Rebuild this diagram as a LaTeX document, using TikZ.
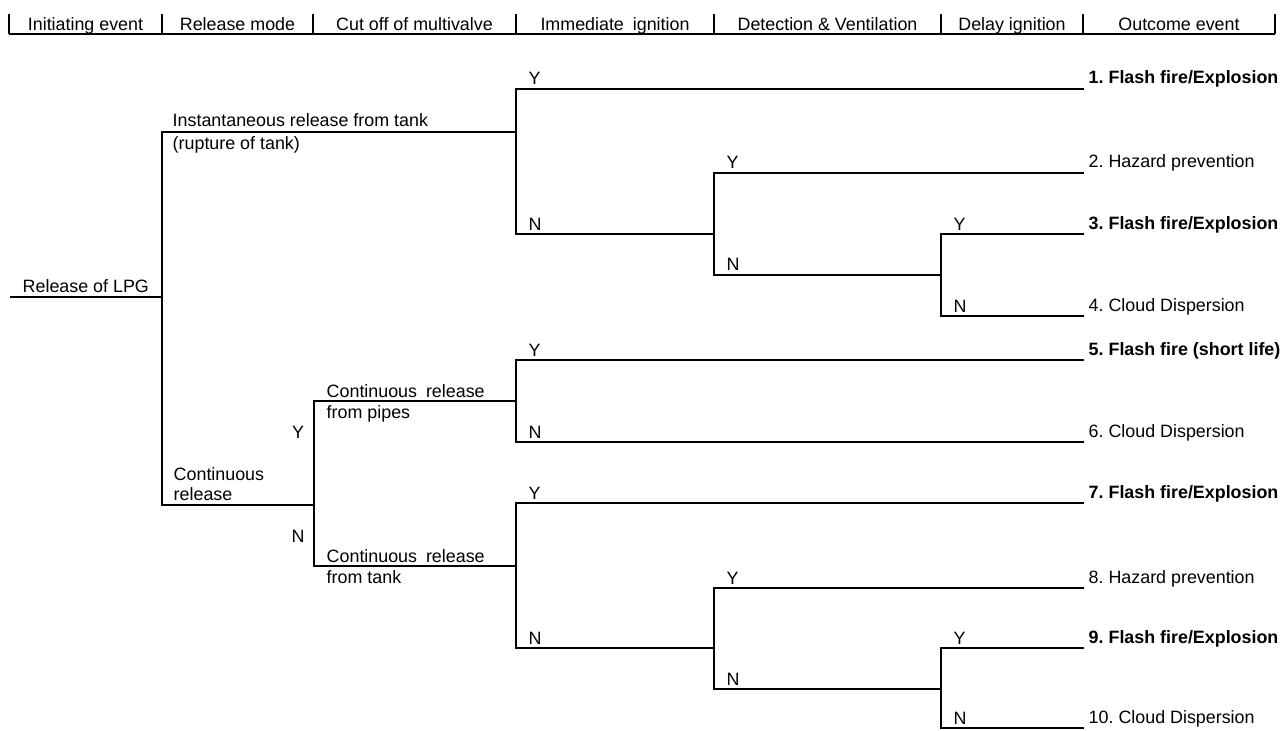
\documentclass[tikz,border=0pt]{standalone}
\usepackage{fontspec}
\setmainfont{Liberation Sans}
\frenchspacing
\begin{document}
\begin{tikzpicture}[x=0.75pt,y=-0.75pt,line width=1.1pt,
  lbl/.style={inner sep=0pt,font=\fontsize{13.4}{16}\selectfont,anchor=base west},
  hdr/.style={inner sep=0pt,font=\fontsize{13.4}{16}\selectfont,anchor=base},
  outcome/.style={lbl},
  outcomeb/.style={lbl,font=\fontsize{13.4}{16}\selectfont\bfseries},
  yn/.style={lbl},
  br/.style={line width=1.1pt,draw=black}]
\useasboundingbox (0,0) rectangle (1282,731);
% ---------- header ----------
\foreach \x/\n in {9/h0,162/h1,313/h2,516/h3,714/h4,941/h5,1083/h6,1275/h7}{
  \coordinate (\n t) at (\x,14);
  \coordinate (\n b) at (\x,34);
  \draw[br] (\n t) -- (\n b);
}
\draw[br] (h0b) -- (h7b);
\node[hdr] (c1) at (85.5,31) {Initiating event};
\node[hdr] (c2) at (237.5,31) {Release mode};
\node[hdr] (c3) at (414.5,31) {Cut off of multivalve};
\node[hdr] (c4) at (615,31) {Immediate\hskip0.5em ignition};
\node[hdr] (c5) at (827.5,31) {Detection \& Ventilation};
\node[hdr] (c6) at (1012,31) {Delay ignition};
\node[hdr] (c7) at (1179,31) {Outcome event};
% ---------- tree coordinates ----------
\coordinate (s0) at (10,297);   \coordinate (s1) at (162,297);
\coordinate (i0) at (162,132);  \coordinate (i1) at (516,132);
\coordinate (c0) at (162,505);  \coordinate (cc1) at (314,505);
\coordinate (p0) at (314,401);  \coordinate (p1) at (516,401);
\coordinate (t0) at (314,566);  \coordinate (t1) at (516,566);
% instantaneous sub-tree
\coordinate (a1) at (516,89);   \coordinate (e1) at (1084,89);
\coordinate (an) at (516,234);  \coordinate (an1) at (714,234);
\coordinate (b1) at (714,173);  \coordinate (e2) at (1084,173);
\coordinate (bn) at (714,275);  \coordinate (bn1) at (941,275);
\coordinate (d1) at (941,234);  \coordinate (e3) at (1084,234);
\coordinate (dn) at (941,316);  \coordinate (e4) at (1084,316);
% pipes sub-tree
\coordinate (f1) at (516,360);  \coordinate (e5) at (1084,360);
\coordinate (fn) at (516,442);  \coordinate (e6) at (1084,442);
% tank sub-tree
\coordinate (g1) at (516,503);  \coordinate (e7) at (1084,503);
\coordinate (gn) at (516,648);  \coordinate (gn1) at (714,648);
\coordinate (k1) at (714,588);  \coordinate (e8) at (1084,588);
\coordinate (kn) at (714,689);  \coordinate (kn1) at (941,689);
\coordinate (m1) at (941,648);  \coordinate (e9) at (1084,648);
\coordinate (mn) at (941,728);  \coordinate (e10) at (1084,728);
% ---------- branches ----------
\draw[br] (s0) -- (s1);
\draw[br] (i1) -- (i0) -- (c0) -- (cc1);
\draw[br] (p1) -- (p0) -- (t0) -- (t1);
\draw[br] (e1) -- (a1) -- (an) -- (an1);
\draw[br] (e2) -- (b1) -- (bn) -- (bn1);
\draw[br] (e3) -- (d1) -- (dn) -- (e4);
\draw[br] (e5) -- (f1) -- (fn) -- (e6);
\draw[br] (e7) -- (g1) -- (gn) -- (gn1);
\draw[br] (e8) -- (k1) -- (kn) -- (kn1);
\draw[br] (e9) -- (m1) -- (mn) -- (e10);
% ---------- branch labels ----------
\node[lbl] (lpg) at (22,292) {Release of LPG};
\node[lbl] (ins1) at (172,127) {Instantaneous release from tank};
\node[lbl] (ins2) at (172,150) {(rupture of tank)};
\node[lbl] (con1) at (173,480) {Continuous};
\node[lbl] (con2) at (173,500) {release};
\node[lbl] (pip1) at (326,397) {Continuous\hskip0.5em release};
\node[lbl] (pip2) at (326,418) {from pipes};
\node[lbl] (tnk1) at (326,562) {Continuous\hskip0.5em release};
\node[lbl] (tnk2) at (326,583) {from tank};
\node[hdr] (cy) at (298,438) {Y};
\node[hdr] (cn) at (298,542) {N};
% Y / N labels on branches
\node[yn] (y1) at (528,85) {Y};
\node[yn] (n1) at (528,230) {N};
\node[yn] (y2) at (726,169) {Y};
\node[yn] (n2) at (726,271) {N};
\node[yn] (y3) at (953,230) {Y};
\node[yn] (n3) at (953,312) {N};
\node[yn] (y4) at (528,356) {Y};
\node[yn] (n4) at (528,438) {N};
\node[yn] (y5) at (528,499) {Y};
\node[yn] (n5) at (528,644) {N};
\node[yn] (y6) at (726,584) {Y};
\node[yn] (n6) at (726,685) {N};
\node[yn] (y7) at (953,644) {Y};
\node[yn] (n7) at (953,724) {N};
% ---------- outcomes ----------
\node[outcomeb] (o1) at (1088,84) {1. Flash fire/Explosion};
\node[outcome]  (o2) at (1088,168) {2. Hazard prevention};
\node[outcomeb] (o3) at (1088,229) {3. Flash fire/Explosion};
\node[outcome]  (o4) at (1088,311) {4. Cloud Dispersion};
\node[outcomeb] (o5) at (1088,355) {5. Flash fire (short life)};
\node[outcome]  (o6) at (1088,437) {6. Cloud Dispersion};
\node[outcomeb] (o7) at (1088,498) {7. Flash fire/Explosion};
\node[outcome]  (o8) at (1088,583) {8. Hazard prevention};
\node[outcomeb] (o9) at (1088,643) {9. Flash fire/Explosion};
\node[outcome]  (o10) at (1088,723) {10. Cloud Dispersion};
\end{tikzpicture}
\end{document}
